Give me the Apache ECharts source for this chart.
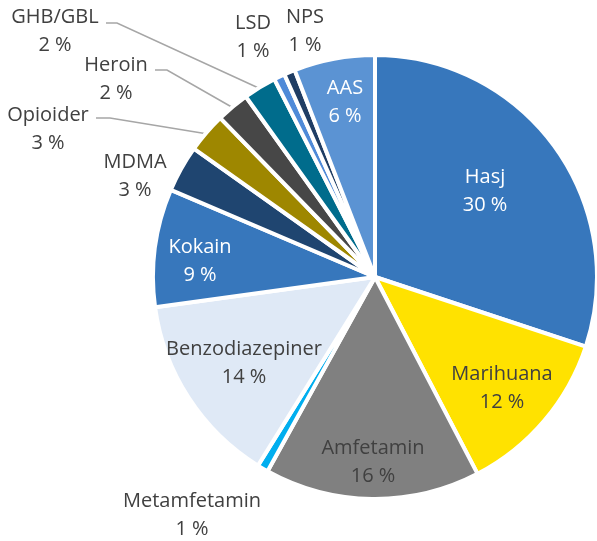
<!DOCTYPE html>
<html>
<head>
<meta charset="utf-8">
<script src="https://cdn.jsdelivr.net/npm/echarts@6/dist/echarts.min.js"></script>
<style>
  html, body { margin: 0; padding: 0; background: #fff; }
  #chart { width: 597px; height: 541px; }
</style>
</head>
<body>
<div id="chart"></div>
<script>
// data, clockwise from 12 o'clock
const categories = ['Hasj', 'Marihuana', 'Amfetamin', 'Metamfetamin', 'Benzodiazepiner', 'Kokain',
  'MDMA', 'Opioider', 'Heroin', 'GHB/GBL', 'LSD', 'NPS', 'AAS'];
const shares = [30.1, 12.3, 15.7, 0.8, 14.0, 8.6, 3.4, 2.9, 2.4, 2.4, 0.8, 0.8, 5.9];

const sliceColors = ['#3777bc', '#ffe200', '#808080', '#00aeef', '#dfe9f6', '#3777bc',
  '#1f4570', '#9e8700', '#474747', '#006c8c', '#4f8ad8', '#1f3d64', '#5b93d3'];
const whiteText = ['Hasj', 'Kokain', 'AAS'];

// where each label sits (text centre) and, for the three with leader lines, the bend/end
const labelSpots = {
  'Hasj': [485, 191],
  'Marihuana': [502, 388],
  'Amfetamin': [373, 462],
  'Metamfetamin': [192, 515],
  'Benzodiazepiner': [244, 363],
  'Kokain': [200, 261],
  'MDMA': [135, 176],
  'Opioider': [48, 129],
  'Heroin': [116, 79],
  'GHB/GBL': [55, 31],
  'LSD': [253, 37],
  'NPS': [305, 31],
  'AAS': [345, 102]
};
const leaders = {
  'Opioider': [[110, 118], [96, 118]],
  'Heroin': [[167, 70], [155, 70]],
  'GHB/GBL': [[117, 23], [106, 23]]
};

const cx = 375, cy = 277, r = 222;

const chart = echarts.init(document.getElementById('chart'));

const data = categories.map((name, i) => ({
  name: name,
  value: shares[i],
  itemStyle: { color: sliceColors[i] },
  label: {
    position: leaders[name] ? 'outside' : 'inside',
    color: whiteText.includes(name) ? '#ffffff' : '#404040'
  },
  labelLine: { show: !!leaders[name] }
}));

// edge point in the middle of a slice, for the leader lines
function edgePoint(idx) {
  let before = 0;
  let total = 0;
  shares.forEach((v, i) => { total += v; if (i < idx) before += v; });
  const a = (before + shares[idx] / 2) / total * Math.PI * 2;
  return [cx + (r - 2) * Math.sin(a), cy - (r - 2) * Math.cos(a)];
}

const option = {
  backgroundColor: '#fff',
  animation: false,
  series: [
    {
      type: 'pie',
      center: [cx, cy],
      radius: r,
      startAngle: 90,
      clockwise: true,
      avoidLabelOverlap: false,
      itemStyle: { borderColor: '#fff', borderWidth: 4 },
      label: {
        show: true,
        fontFamily: 'Open Sans',
        fontSize: 20,
        lineHeight: 28,
        align: 'center',
        formatter: p => p.name + '\n' + Math.round(p.value) + ' %'
      },
      labelLine: {
        show: false,
        lineStyle: { color: '#a6a6a6', width: 1.5 }
      },
      labelLayout: function (params) {
        const name = categories[params.dataIndex];
        const spot = labelSpots[name];
        const res = { x: spot[0], y: spot[1], align: 'center', verticalAlign: 'middle' };
        if (leaders[name]) {
          res.labelLinePoints = [edgePoint(params.dataIndex)].concat(leaders[name]);
        }
        return res;
      },
      emphasis: { disabled: true },
      data: data
    }
  ]
};

chart.setOption(option);
</script>
</body>
</html>
